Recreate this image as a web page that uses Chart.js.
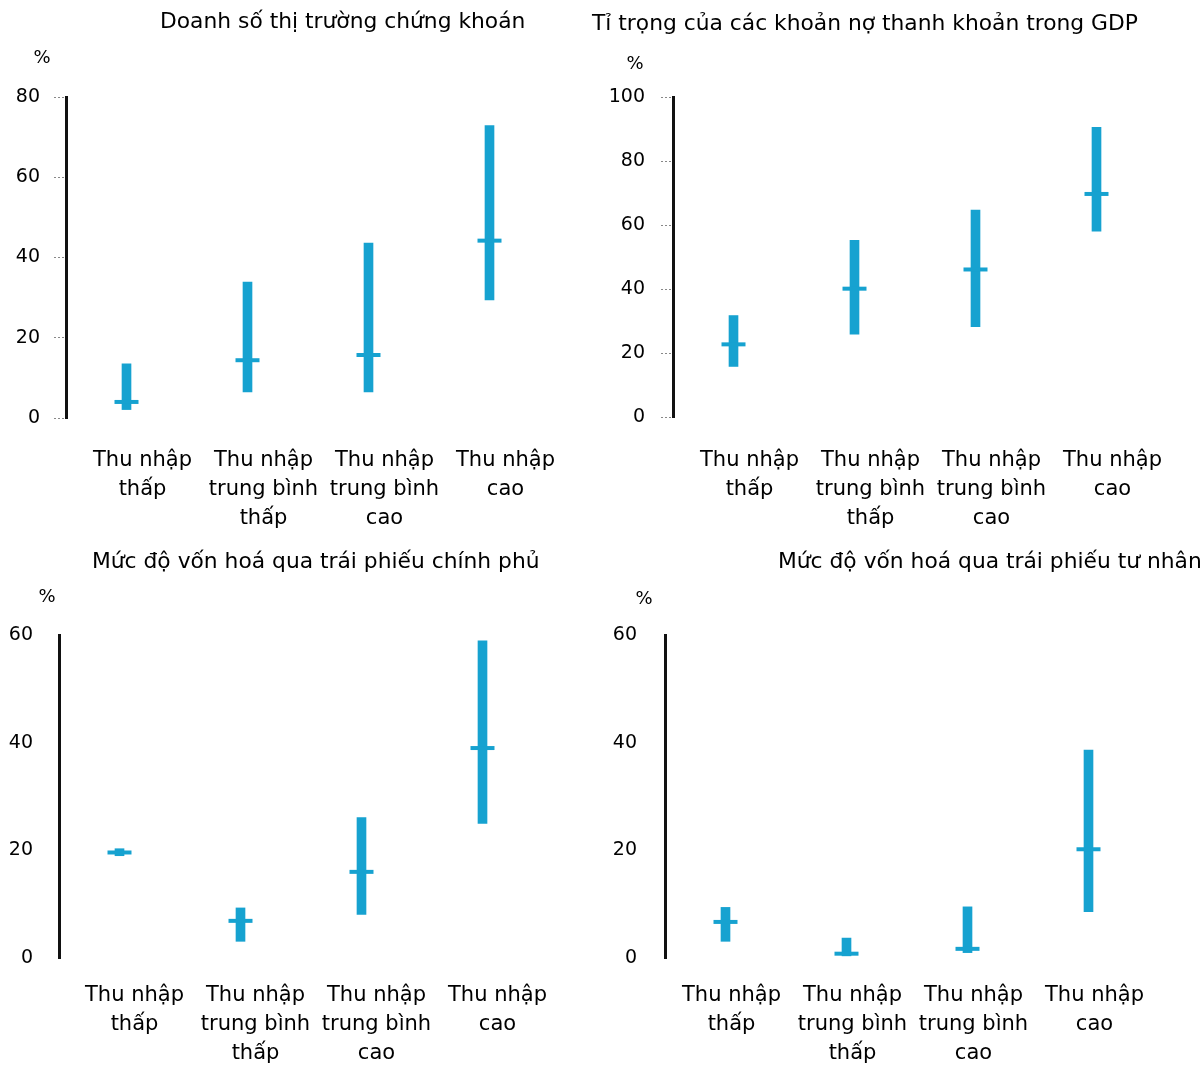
<!DOCTYPE html>
<html>
<head>
<meta charset="utf-8">
<script src="https://cdn.jsdelivr.net/npm/chart.js@4/dist/chart.umd.min.js"></script>
<style>
  body { margin: 0; background: #fff; width: 1200px; height: 1065px; position: relative; overflow: hidden; }
  canvas { position: absolute; }
</style>
</head>
<body>
<canvas id="c1" style="left:0;top:0"></canvas>
<canvas id="c2" style="left:580px;top:0"></canvas>
<canvas id="c3" style="left:0;top:530px"></canvas>
<canvas id="c4" style="left:600px;top:530px"></canvas>
<script>
const categories = [
    ['Thu nhập', 'thấp'],
    ['Thu nhập', 'trung bình', 'thấp'],
    ['Thu nhập', 'trung bình', 'cao'],
    ['Thu nhập', 'cao']
];

// Doanh số thị trường chứng khoán
const stockMin = [2.1, 6.5, 6.5, 29.4];
const stockMax = [13.5, 33.9, 43.6, 72.9];
const stockMedian = [4.0, 14.4, 15.7, 44.2];

// Tỉ trọng của các khoản nợ thanh khoản trong GDP
const liquidMin = [15.8, 25.9, 28.2, 58.1];
const liquidMax = [31.7, 55.2, 64.7, 90.5];
const liquidMedian = [22.7, 40.1, 46.1, 69.7];

// Mức độ vốn hoá qua trái phiếu chính phủ
const govMin = [19.0, 3.1, 8.1, 25.0];
const govMax = [20.3, 9.3, 26.1, 58.9];
const govMedian = [19.6, 6.9, 16.0, 39.0];

// Mức độ vốn hoá qua trái phiếu tư nhân
const privMin = [3.1, 0.4, 1.0, 8.6];
const privMax = [9.4, 3.7, 9.5, 38.6];
const privMedian = [6.7, 0.8, 1.7, 20.2];

const yMaxes = [80, 100, 60, 60];

const BLUE = '#16a2d0';
const FONT = "'DejaVu Sans', sans-serif";

const textPlugin = {
    id: 'panelText',
    afterDraw(chart, args, opts) {
        const ctx = chart.ctx;
        ctx.save();
        ctx.fillStyle = '#000';
        ctx.textBaseline = 'middle';
        ctx.textAlign = 'left';
        ctx.font = '21.8px ' + FONT;
        ctx.fillText(opts.title, opts.titleX, opts.titleY);
        ctx.textAlign = 'center';
        ctx.font = '18px ' + FONT;
        ctx.fillText('%', opts.pctX, opts.pctY);
        ctx.restore();
    }
};

function makePanel(id, w, h, lo, hi, med, yMax, lay, txt) {
    const canvas = document.getElementById(id);
    canvas.width = w;
    canvas.height = h;
    canvas.style.width = w + 'px';
    canvas.style.height = h + 'px';
    new Chart(canvas.getContext('2d'), {
        type: 'bar',
        data: {
            labels: categories,
            datasets: [{
                type: 'bar',
                data: lo.map((v, i) => [v, hi[i]]),
                backgroundColor: BLUE,
                barThickness: 9,
                order: 2
            }, {
                type: 'line',
                data: med,
                showLine: false,
                pointStyle: 'line',
                pointRadius: 12,
                pointBorderWidth: 4,
                pointBorderColor: BLUE,
                pointBackgroundColor: BLUE,
                order: 1
            }]
        },
        options: {
            responsive: false,
            animation: false,
            devicePixelRatio: 1,
            layout: { padding: { left: 0, top: lay.top, right: w - lay.right, bottom: 0 } },
            plugins: {
                legend: { display: false },
                tooltip: { enabled: false },
                panelText: txt
            },
            scales: {
                x: {
                    grid: { display: false },
                    border: { display: false },
                    ticks: {
                        color: '#000',
                        font: { family: FONT, size: 21, lineHeight: 1.38 },
                        padding: lay.labelPad,
                        labelOffset: lay.labelOffset,
                        maxRotation: 0,
                        autoSkip: false
                    },
                    afterFit(scale) { scale.height = h - lay.bottom; }
                },
                y: {
                    min: 0,
                    max: yMax,
                    grid: {
                        drawOnChartArea: false,
                        tickLength: 12,
                        tickColor: lay.tickColor,
                        tickBorderDash: [2, 2]
                    },
                    border: { display: true, color: '#111', width: 3 },
                    ticks: {
                        stepSize: 20,
                        color: '#000',
                        padding: lay.yPad,
                        font: { family: FONT, size: 19 }
                    },
                    afterFit(scale) { scale.width = lay.left; }
                }
            }
        },
        plugins: [textPlugin]
    });
}

makePanel('c1', 600, 535, stockMin, stockMax, stockMedian, yMaxes[0],
    { left: 66, right: 550, top: 97, bottom: 418, labelPad: 20, labelOffset: 16, tickColor: '#888', yPad: 14 },
    { title: 'Doanh số thị trường chứng khoán', titleX: 160, titleY: 22, pctX: 42, pctY: 58 });

makePanel('c2', 620, 535, liquidMin, liquidMax, liquidMedian, yMaxes[1],
    { left: 93, right: 577, top: 97, bottom: 417, labelPad: 21, labelOffset: 16, tickColor: '#888', yPad: 16 },
    { title: 'Tỉ trọng của các khoản nợ thanh khoản trong GDP', titleX: 12, titleY: 24, pctX: 55, pctY: 64 });

makePanel('c3', 600, 535, govMin, govMax, govMedian, yMaxes[2],
    { left: 59, right: 543, top: 105, bottom: 428, labelPad: 15, labelOffset: 15, tickColor: 'rgba(0,0,0,0)', yPad: 14 },
    { title: 'Mức độ vốn hoá qua trái phiếu chính phủ', titleX: 92, titleY: 32, pctX: 47, pctY: 67 });

makePanel('c4', 600, 535, privMin, privMax, privMedian, yMaxes[3],
    { left: 65, right: 549, top: 105, bottom: 428, labelPad: 15, labelOffset: 6, tickColor: 'rgba(0,0,0,0)', yPad: 16 },
    { title: 'Mức độ vốn hoá qua trái phiếu tư nhân', titleX: 178, titleY: 32, pctX: 44, pctY: 69 });
</script>
</body>
</html>
